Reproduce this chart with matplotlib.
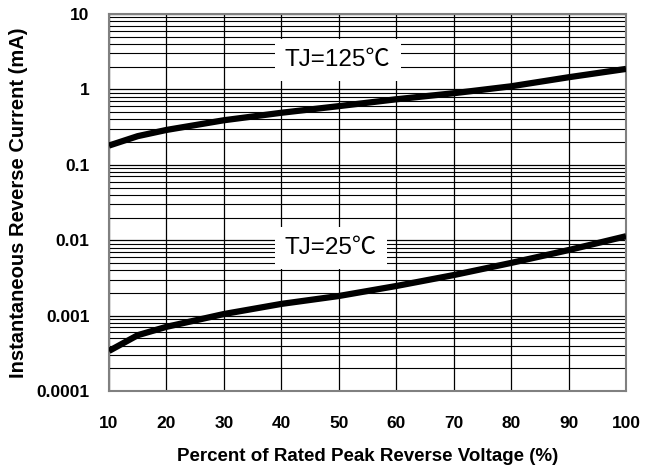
import numpy as np
import matplotlib
matplotlib.use("Agg")
import matplotlib.pyplot as plt
from matplotlib.ticker import FixedLocator, NullFormatter

plt.rcParams['font.family'] = ['Liberation Sans', 'Noto Sans CJK SC', 'DejaVu Sans']

# percent of rated peak reverse voltage
voltage_pct = [10, 15, 20, 30, 40, 50, 60, 70, 80, 90, 100]

# reverse current (mA)
current_125 = [0.18, 0.24, 0.29, 0.39, 0.49, 0.60, 0.74, 0.89, 1.10, 1.45, 1.87]
current_25 = [0.00034, 0.00055, 0.00071, 0.00105, 0.00143, 0.00182, 0.00247, 0.00345, 0.0050, 0.0074, 0.0113]

x_ticks = [10, 20, 30, 40, 50, 60, 70, 80, 90, 100]
y_ticks = [0.0001, 0.001, 0.01, 0.1, 1, 10]
y_tick_labels = ['0.0001', '0.001', '0.01', '0.1', '1', '10']

label_125 = ('TJ=125℃', 40.6, 2.45)
label_25 = ('TJ=25℃', 40.6, 0.0079)

fig = plt.figure(figsize=(6.59, 4.75), dpi=100)
ax = fig.add_axes([0.1654, 0.1768, 0.7846, 0.7937])

ax.set_yscale('log')
ax.set_xlim(10, 100)
ax.set_ylim(0.0001, 10)

# grid: every 10 % on x, 1..9 per decade on y
ax.set_xticks(x_ticks)
ax.set_yticks(y_ticks)
ax.set_yticklabels(y_tick_labels)
minor_y = [m * 10.0 ** d for d in range(-4, 1) for m in range(2, 10)]
ax.yaxis.set_minor_locator(FixedLocator(minor_y))
ax.yaxis.set_minor_formatter(NullFormatter())
ax.grid(True, which='major', color='black', linewidth=0.9)
ax.grid(True, which='minor', axis='y', color='black', linewidth=0.8)
ax.set_axisbelow(True)

ax.tick_params(which='both', length=0)
ax.tick_params(axis='x', pad=18, labelsize=12.5)
ax.tick_params(axis='y', pad=14, labelsize=12.5)
for lbl in ax.get_xticklabels() + ax.get_yticklabels():
    lbl.set_fontweight('bold')

for s in ax.spines.values():
    s.set_color('#808080')
    s.set_linewidth(1.5)

ax.plot(voltage_pct, current_125, color='black', linewidth=4.5, solid_capstyle='butt', zorder=3)
ax.plot(voltage_pct, current_25, color='black', linewidth=4.5, solid_capstyle='butt', zorder=3)

for txt, x, y in (label_125, label_25):
    ax.text(x, y, txt, fontsize=17.5, ha='left', va='center', zorder=4,
            family=['Liberation Sans', 'Noto Sans CJK SC'],
            bbox=dict(boxstyle='square,pad=0.42', facecolor='white', edgecolor='none'))

ax.set_xlabel('Percent of Rated Peak Reverse Voltage (%)', fontsize=13.5, fontweight='bold', labelpad=12)
ax.set_ylabel('Instantaneous Reverse Current (mA)', fontsize=14.5, fontweight='bold', labelpad=6)

fig.savefig('out.png', dpi=100)
